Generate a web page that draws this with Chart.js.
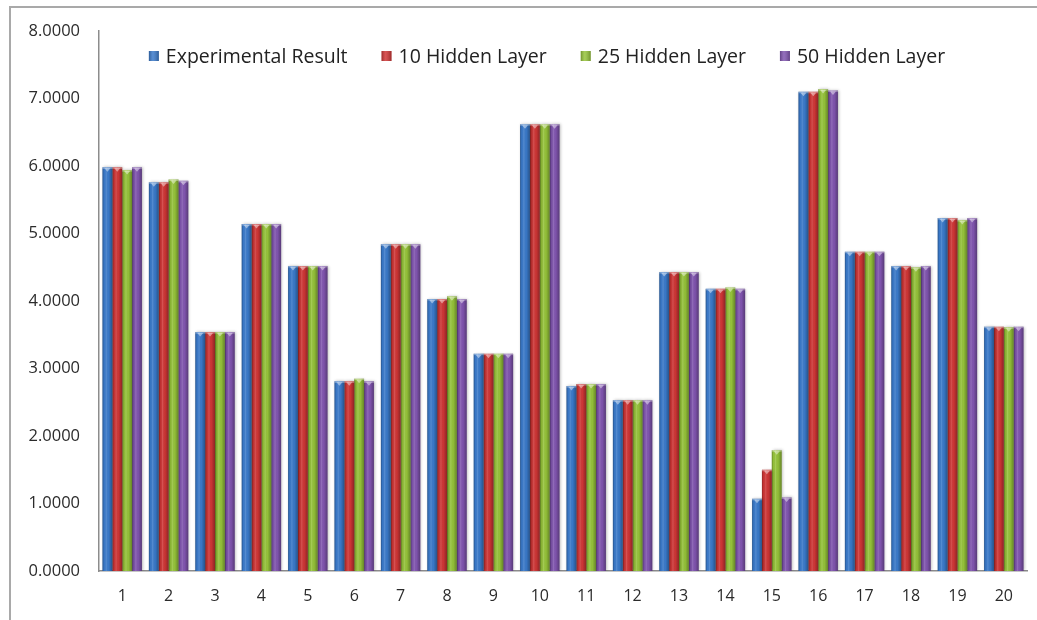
<!DOCTYPE html>
<html>
<head>
<meta charset="utf-8">
<script src="https://cdn.jsdelivr.net/npm/chart.js@4.4.0/dist/chart.umd.min.js"></script>
<style>
  html, body { margin: 0; padding: 0; background: #ffffff; overflow: hidden; }
  #wrap { position: relative; width: 1037px; height: 620px; }
</style>
</head>
<body>
<div id="wrap"><canvas id="chart" width="1037" height="620"></canvas></div>
<script>
// Sample numbers along the x axis
const categories = ['1','2','3','4','5','6','7','8','9','10','11','12','13','14','15','16','17','18','19','20'];

// Measured values and network predictions
const experimentalResult = [5.98, 5.76, 3.54, 5.14, 4.52, 2.81, 4.84, 4.03, 3.22, 6.62, 2.74, 2.53, 4.43, 4.18, 1.07, 7.10, 4.73, 4.52, 5.23, 3.62];
const hidden10 = [5.98, 5.76, 3.54, 5.14, 4.52, 2.81, 4.84, 4.03, 3.22, 6.62, 2.77, 2.53, 4.43, 4.18, 1.50, 7.10, 4.73, 4.52, 5.23, 3.62];
const hidden25 = [5.94, 5.80, 3.54, 5.14, 4.52, 2.85, 4.84, 4.07, 3.22, 6.62, 2.77, 2.53, 4.43, 4.20, 1.79, 7.14, 4.73, 4.50, 5.20, 3.61];
const hidden50 = [5.98, 5.78, 3.54, 5.14, 4.52, 2.81, 4.84, 4.03, 3.22, 6.62, 2.77, 2.53, 4.43, 4.18, 1.09, 7.12, 4.73, 4.52, 5.23, 3.62];

const seriesNames = ['Experimental Result', '10 Hidden Layer', '25 Hidden Layer', '50 Hidden Layer'];
const seriesColors = ['#3a7acb', '#d03636', '#96c43a', '#8155b0'];

const FONT = '"Open Sans", "Segoe UI", sans-serif';

// Outer frame line along the top and left edges
const framePlugin = {
  id: 'frame',
  beforeDraw(chart) {
    const c = chart.ctx;
    c.save();
    c.fillStyle = '#ffffff';
    c.fillRect(0, 0, chart.width, chart.height);
    c.strokeStyle = '#a9a9a9';
    c.lineWidth = 2;
    c.beginPath();
    c.moveTo(10, chart.height);
    c.lineTo(10, 7);
    c.lineTo(chart.width, 7);
    c.stroke();
    c.restore();
  }
};

// Cylinder-like shading, soft shadow and a light cap on every bar
const barShadePlugin = {
  id: 'barShade',
  beforeDatasetsDraw(chart) {
    const c = chart.ctx;
    c.save();
    c.shadowColor = 'rgba(0,0,0,0.28)';
    c.shadowBlur = 3;
    c.shadowOffsetX = 1;
    c.shadowOffsetY = 0;
  },
  afterDatasetsDraw(chart) {
    const c = chart.ctx;
    c.restore();
    c.save();
    chart.data.datasets.forEach((ds, i) => {
      const meta = chart.getDatasetMeta(i);
      meta.data.forEach(bar => {
        const p = bar.getProps(['x', 'y', 'base', 'width'], true);
        const left = p.x - p.width / 2;
        const h = p.base - p.y;
        const g = c.createLinearGradient(left, 0, left + p.width, 0);
        g.addColorStop(0, 'rgba(0,0,0,0.30)');
        g.addColorStop(0.18, 'rgba(0,0,0,0.02)');
        g.addColorStop(0.38, 'rgba(255,255,255,0.14)');
        g.addColorStop(0.62, 'rgba(0,0,0,0.02)');
        g.addColorStop(1, 'rgba(0,0,0,0.32)');
        c.fillStyle = g;
        c.fillRect(left, p.y, p.width, h);
        // light cap at the top
        c.fillStyle = 'rgba(255,255,255,0.35)';
        c.fillRect(left, p.y, p.width, 1.5);
        c.beginPath();
        c.moveTo(p.x - p.width * 0.3, p.y + 1);
        c.lineTo(p.x + p.width * 0.3, p.y + 1);
        c.lineTo(p.x, p.y + 4.5);
        c.closePath();
        c.fillStyle = 'rgba(255,255,255,0.45)';
        c.fill();
      });
    });
    c.restore();
  }
};

// Legend drawn inside the plot area, one row
const insideLegendPlugin = {
  id: 'insideLegend',
  afterDraw(chart) {
    const c = chart.ctx;
    const area = chart.chartArea;
    const box = 10, textGap = 7, itemGap = 34;
    c.save();
    c.font = '19.5px ' + FONT;
    c.textBaseline = 'middle';
    c.textAlign = 'left';
    const widths = chart.data.datasets.map(ds => c.measureText(ds.label).width);
    const total = widths.reduce((a, w) => a + box + textGap + w, 0) + itemGap * (widths.length - 1);
    const centre = (area.left + area.right) / 2 - 16;
    let x = centre - total / 2;
    const y = area.top + 25;
    chart.data.datasets.forEach((ds, i) => {
      const col = ds.backgroundColor;
      c.fillStyle = col;
      c.fillRect(x, y - box / 2, box, box);
      const g = c.createLinearGradient(x, 0, x + box, 0);
      g.addColorStop(0, 'rgba(0,0,0,0.25)');
      g.addColorStop(0.4, 'rgba(255,255,255,0.15)');
      g.addColorStop(1, 'rgba(0,0,0,0.25)');
      c.fillStyle = g;
      c.fillRect(x, y - box / 2, box, box);
      c.fillStyle = '#222222';
      c.fillText(ds.label, x + box + textGap, y + 1);
      x += box + textGap + widths[i] + itemGap;
    });
    c.restore();
  }
};

const seriesData = [experimentalResult, hidden10, hidden25, hidden50];

new Chart(document.getElementById('chart'), {
  type: 'bar',
  data: {
    labels: categories,
    datasets: seriesData.map((vals, i) => ({
      label: seriesNames[i],
      data: vals,
      backgroundColor: seriesColors[i],
      borderWidth: 0,
      barPercentage: 1.0,
      categoryPercentage: 0.85
    }))
  },
  options: {
    responsive: false,
    animation: false,
    layout: { padding: { top: 31, right: 10, bottom: 14, left: 0 } },
    plugins: {
      legend: { display: false },
      tooltip: { enabled: false }
    },
    scales: {
      x: {
        grid: { display: false, drawTicks: false },
        border: { display: true, color: '#8c8c8c', width: 1.5 },
        ticks: { padding: 16, color: '#2b2b2b', font: { family: FONT, size: 16 } },
        afterFit(scale) { scale.height = 35; }
      },
      y: {
        min: 0,
        max: 8,
        grid: { display: false, drawTicks: false },
        border: { display: true, color: '#8c8c8c', width: 1.5 },
        ticks: {
          stepSize: 1,
          padding: 19,
          color: '#2b2b2b',
          font: { family: FONT, size: 16.5 },
          callback: v => Number(v).toFixed(4)
        },
        afterFit(scale) { scale.width = 99; }
      }
    }
  },
  plugins: [framePlugin, barShadePlugin, insideLegendPlugin]
});
</script>
</body>
</html>
